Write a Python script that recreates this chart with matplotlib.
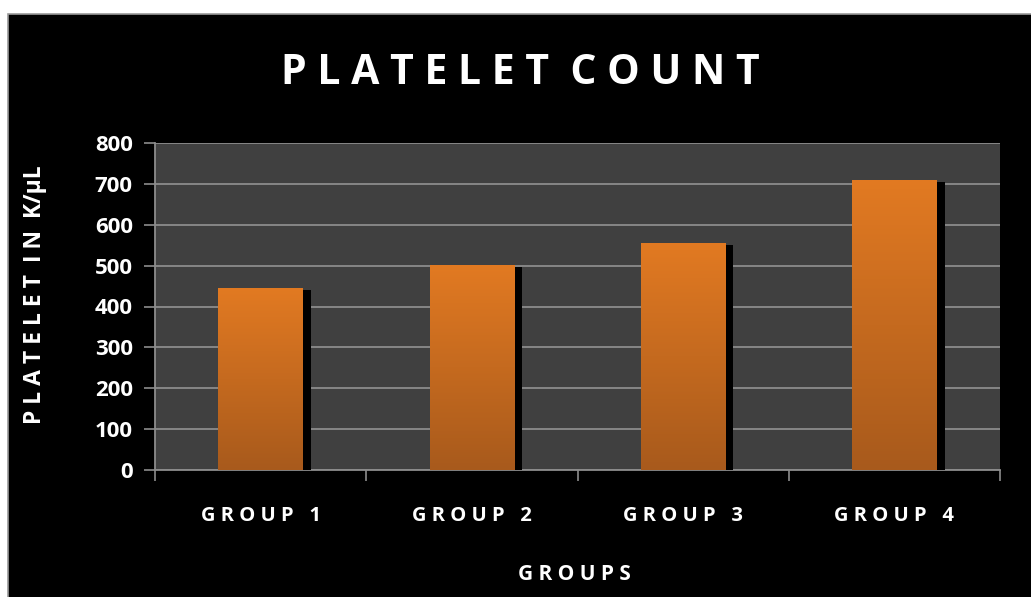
import matplotlib
matplotlib.use("Agg")
import matplotlib.pyplot as plt
import matplotlib.patheffects as pe
from matplotlib.colors import LinearSegmentedColormap
from matplotlib.patches import Rectangle
import numpy as np

groups = ["GROUP 1", "GROUP 2", "GROUP 3", "GROUP 4"]
platelets = [445, 502, 556, 710]
yticks = [0, 100, 200, 300, 400, 500, 600, 700, 800]

plt.rcParams['font.family'] = ['Open Sans', 'DejaVu Sans']


def spaced(s, gap=" "):
    return gap.join(list(s))


fig = plt.figure(figsize=(10.31, 5.97), dpi=100, facecolor="white")
# black panel with thin grey frame, kept behind the axes
fig.patches.append(Rectangle((8 / 1031, -0.01), 1.01, 1.01 - 14 / 597,
                             transform=fig.transFigure, facecolor="black",
                             edgecolor="#9a9a9a", linewidth=1.2, zorder=-5))

ax = fig.add_axes([155 / 1031, 1 - 470 / 597, 845 / 1031, 327 / 597])
ax.set_facecolor("#404040")

x = np.arange(len(groups))
bars = ax.bar(x, platelets, width=0.40, color="#d06f20", zorder=3)

orange = LinearSegmentedColormap.from_list("orng", ["#a85a1c", "#e27a22"])
grad = np.linspace(0, 1, 256).reshape(-1, 1)
for b in bars:
    b.set_path_effects([pe.SimplePatchShadow(offset=(5.8, -1.5), shadow_rgbFace="black", alpha=1.0),
                        pe.Normal()])
    x0, w, h = b.get_x(), b.get_width(), b.get_height()
    im = ax.imshow(grad, cmap=orange, origin="lower", aspect="auto",
                   extent=(x0, x0 + w, 0, h), zorder=4)
    im.set_clip_path(b)

ax.set_xlim(-0.5, len(groups) - 0.5)
ax.set_ylim(0, 800)
ax.set_yticks(yticks)
ax.set_yticklabels([str(v) for v in yticks], fontsize=16, fontweight="bold", color="white")
ax.yaxis.grid(True, color="#8c8c8c", linewidth=1.3, zorder=1)
ax.set_axisbelow(True)

ax.set_xticks(x)
ax.set_xticklabels([spaced(g) for g in groups], fontsize=14.5, fontweight="bold", color="white")
ax.set_xticks(np.arange(-0.5, len(groups)), minor=True)
ax.tick_params(axis="x", which="major", length=0, pad=26)
ax.tick_params(axis="x", which="minor", length=8, color="#8c8c8c", width=1.2)
ax.tick_params(axis="y", length=8, color="#8c8c8c", width=1.2, pad=8)

for side in ["top", "right"]:
    ax.spines[side].set_visible(False)
for side in ["left", "bottom"]:
    ax.spines[side].set_color("#8c8c8c")
    ax.spines[side].set_linewidth(1.3)

fig.text(0.505, 1 - 73 / 597, spaced("PLATELET") + "  " + spaced("COUNT"),
         ha="center", va="center", fontsize=29.5, fontweight="bold", color="white")
fig.text(574 / 1031, 1 - 574 / 597, spaced("GROUPS"), ha="center", va="center",
         fontsize=15, fontweight="bold", color="white")
fig.text(35 / 1031, 1 - 295 / 597, spaced("PLATELET") + "  " + spaced("IN") + "  K/µL",
         ha="center", va="center", rotation=90, fontsize=16.5, fontweight="bold", color="white")

fig.savefig("out.png", dpi=100, facecolor=fig.get_facecolor())
